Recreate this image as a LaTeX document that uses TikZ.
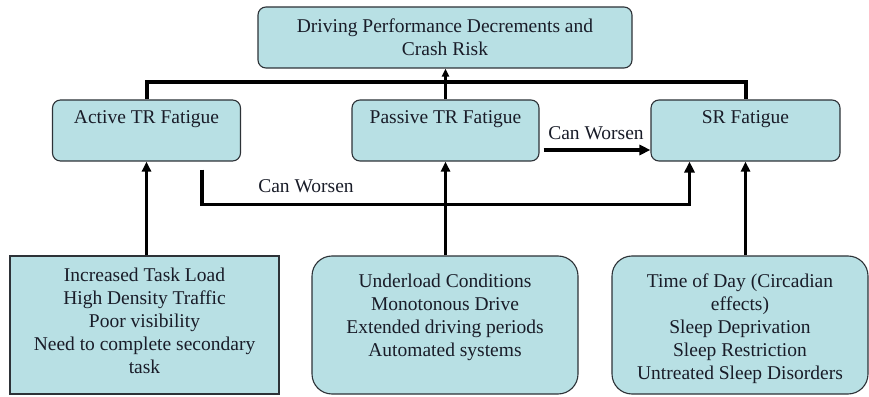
\documentclass[tikz,border=0pt]{standalone}
\usepackage{fontspec}
\setmainfont{Liberation Serif}
\usepackage{tikz}
\usetikzlibrary{arrows.meta, positioning, calc}
\definecolor{boxfill}{RGB}{184,224,228}
\definecolor{boxline}{RGB}{45,50,55}
\definecolor{ink}{RGB}{25,28,40}
\newcommand{\figfont}{\fontsize{19.5}{23}\selectfont}

\begin{document}
\begin{tikzpicture}[x=1pt, y=1pt,
  panel/.style={draw=boxline, fill=boxfill, line width=1.1pt, font=\figfont, text=ink},
  outcome/.style={panel, rounded corners=8pt, minimum width=374pt, minimum height=61pt, align=center},
  fatigue/.style={panel, rounded corners=8pt, minimum width=188pt, minimum height=61pt, text height=14pt, text depth=27pt},
  cause/.style={panel, minimum width=#1, minimum height=138pt, inner sep=0pt},
  causetext/.style={inner sep=0pt, align=center, font=\figfont, text=ink},
  label/.style={inner sep=0pt, anchor=base, font=\figfont, text=ink},
  link/.style={line width=3pt},
  bus/.style={line width=4pt},
  upward/.style={link, -{Triangle[length=10pt, width=9pt]}},
  worsen/.style={line width=3.5pt, -{Triangle[length=11pt, width=10pt]}}]
  \useasboundingbox (0,0) rectangle (869,396);
  % outcome and fatigue types
  \node[outcome] (risk) at (445,358.5) {Driving Performance Decrements and\\Crash Risk};
  \node[fatigue] (active) at (146.5,265.5) {Active TR Fatigue};
  \node[fatigue, minimum width=187pt] (passive) at (445.5,265.5) {Passive TR Fatigue};
  \node[fatigue, minimum width=189pt] (sr) at (745.5,265.5) {SR Fatigue};
  % causes
  \node[cause=269pt] (load) at (144.5,71) {};
  \node[cause=266pt, rounded corners=20pt] (underload) at (445,71) {};
  \node[cause=256pt, rounded corners=20pt] (circadian) at (740,71) {};
  \node[causetext, below=12.5pt of load.north] (loadtext) {Increased Task Load\\High Density Traffic\\Poor visibility\\Need to complete secondary\\task};
  \node[causetext, below=18pt of underload.north] (underloadtext) {Underload Conditions\\Monotonous Drive\\Extended driving periods\\Automated systems};
  \node[causetext, below=18pt of circadian.north] (circadiantext) {Time of Day (Circadian\\effects)\\Sleep Deprivation\\Sleep Restriction\\Untreated Sleep Disorders};
  % bus to the outcome
  \draw[bus] (active.north) -- ++(0,17) -| (sr.north);
  \draw[link, -{Triangle[length=8pt, width=7pt]}] (passive.north) -- (passive.north |- risk.south);
  % causes feed fatigue
  \draw[upward] (active.south |- load.north) -- (active.south);
  \draw[upward] (passive.south |- underload.north) -- (passive.south);
  \draw[upward] (sr.south |- circadian.north) -- (sr.south);
  % can worsen
  \draw[worsen] ([xshift=4pt, yshift=-19.5pt]passive.east) -- ([yshift=-19.5pt]sr.west);
  \node[label] (worsenA) at (596,256.5) {Can Worsen};
  \draw[worsen] ([xshift=55.5pt, yshift=-8pt]active.south) -- ++(0,-35) -| ([xshift=-56pt]sr.south);
  \node[label] (worsenB) at (306,203.5) {Can Worsen};
\end{tikzpicture}
\end{document}
